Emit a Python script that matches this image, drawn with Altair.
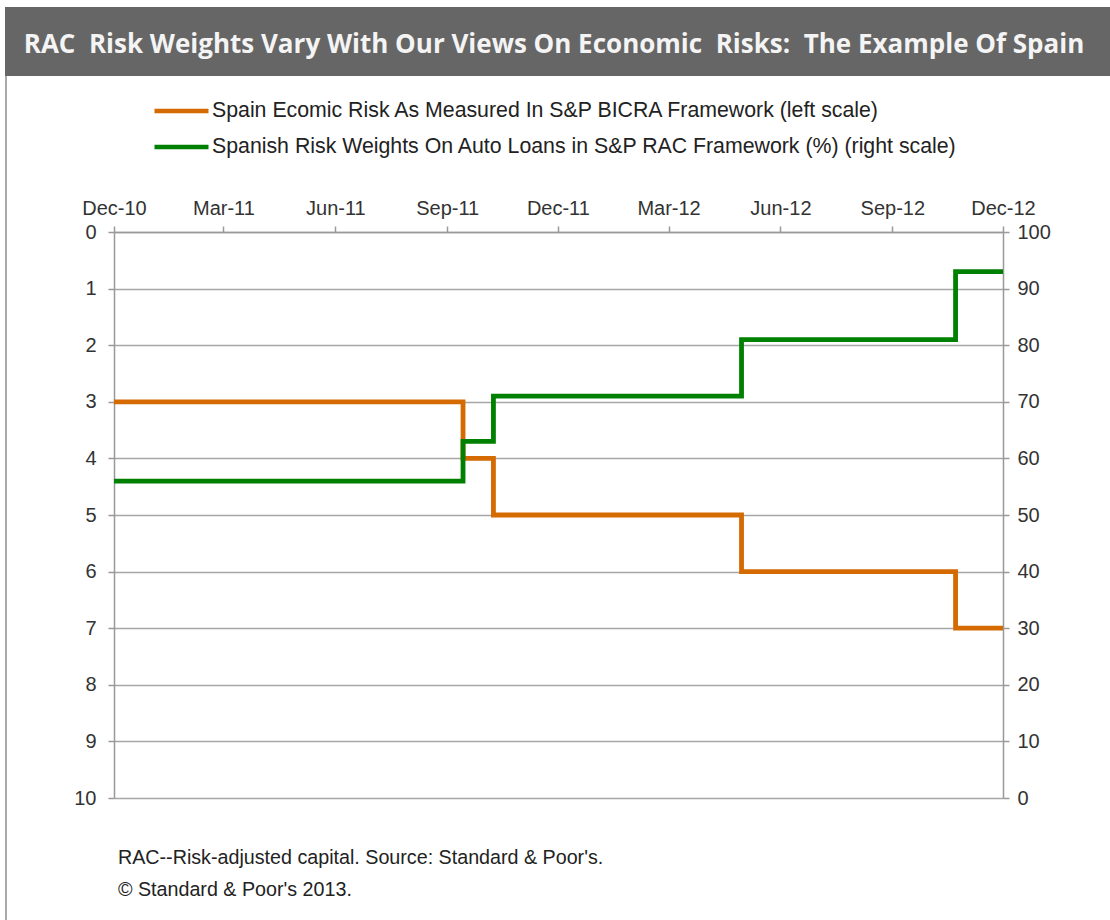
import altair as alt
import pandas as pd

# ---- data ----
STEP_DATES = ["2010-12-01", "2011-09-14", "2011-10-09", "2012-04-30", "2012-10-23", "2012-12-01"]
ECON_RISK = [3, 4, 5, 6, 7, 7]            # left scale (reversed)
RISK_WEIGHTS = [56, 63, 71, 81, 93, 93]   # right scale (%)
SERIES = [
    "Spain Ecomic Risk As Measured In S&P BICRA Framework (left scale)",
    "Spanish Risk Weights On Auto Loans in S&P RAC Framework (%) (right scale)",
]
COLORS = ["#D46A00", "#008000"]
TICK_MONTHS = ["2010-12-01", "2011-03-01", "2011-06-01", "2011-09-01", "2011-12-01",
               "2012-03-01", "2012-06-01", "2012-09-01", "2012-12-01"]
LEFT_TICKS = list(range(0, 11))
RIGHT_TICKS = list(range(0, 101, 10))
TITLE = "RAC\u00a0 Risk Weights Vary With Our Views On Economic\u00a0 Risks:\u00a0 The Example Of Spain"
FOOTNOTES = ["RAC--Risk-adjusted capital. Source: Standard & Poor's.",
             "\u00a9 Standard & Poor's 2013."]

def ms(d):
    return int(pd.Timestamp(d, tz="UTC").value // 10**6)

econ_df = pd.DataFrame({"date": STEP_DATES, "value": ECON_RISK, "series": SERIES[0]})
wt_df = pd.DataFrame({"date": STEP_DATES, "value": RISK_WEIGHTS, "series": SERIES[1]})

FONT = "Liberation Sans, Arial, sans-serif"
W, H = 889, 566

xenc = alt.X(
    "date:T",
    scale=alt.Scale(type="utc", domain=[ms(TICK_MONTHS[0]), ms(TICK_MONTHS[-1])]),
    axis=alt.Axis(orient="top", values=[ms(d) for d in TICK_MONTHS], format="%b-%y",
                  title=None, grid=False, labelFontSize=20, labelPadding=8,
                  tickSize=6, labelFlush=False, labelOverlap=False),
)
color = alt.Color(
    "series:N",
    scale=alt.Scale(domain=SERIES, range=COLORS),
    legend=alt.Legend(orient="none", legendX=38, legendY=-130, title=None,
                      symbolType="stroke", symbolSize=2916, symbolStrokeWidth=4.5,
                      labelFontSize=21.3, labelOffset=1, clipHeight=18, rowPadding=14,
                      labelLimit=900, labelColor="#222222"),
)

orange = alt.Chart(econ_df).mark_line(interpolate="step-after", strokeWidth=4.8).encode(
    x=xenc,
    y=alt.Y("value:Q", scale=alt.Scale(domain=[0, 10], reverse=True, nice=False),
            axis=alt.Axis(orient="left", values=LEFT_TICKS, grid=True, title=None,
                          labelFontSize=20, labelPadding=12, tickSize=6)),
    color=color,
)
green = alt.Chart(wt_df).mark_line(interpolate="step-after", strokeWidth=4.8).encode(
    x=xenc,
    y=alt.Y("value:Q", scale=alt.Scale(domain=[0, 100], nice=False),
            axis=alt.Axis(orient="right", values=RIGHT_TICKS, grid=False, title=None,
                          labelFontSize=20, labelPadding=8, tickSize=6)),
    color=color,
)

one = pd.DataFrame({"t": [TITLE]})
bar = alt.Chart(one).mark_rect(color="#666666").encode(
    x=alt.value(-109), x2=alt.value(996), y=alt.value(-225), y2=alt.value(-156))
title = alt.Chart(one).mark_text(font="Open Sans", fontSize=26, fontWeight="bold",
                                 color="#F4F4F4", align="center", baseline="alphabetic").encode(
    text="t:N", x=alt.value(440), y=alt.value(-179))
border = alt.Chart(one).mark_rule(color="#8C8C8C", strokeWidth=1.5).encode(
    x=alt.value(-108), y=alt.value(-156), y2=alt.value(690))
foot1 = alt.Chart(pd.DataFrame({"t": [FOOTNOTES[0]]})).mark_text(
    font=FONT, fontSize=19.7, color="#222222", align="left", baseline="alphabetic").encode(
    text="t:N", x=alt.value(4), y=alt.value(632))
foot2 = alt.Chart(pd.DataFrame({"t": [FOOTNOTES[1]]})).mark_text(
    font=FONT, fontSize=19.7, color="#222222", align="left", baseline="alphabetic").encode(
    text="t:N", x=alt.value(4), y=alt.value(664))

chart = alt.layer(bar, title, border, foot1, foot2, orange, green).resolve_scale(
    y="independent"
).properties(
    width=W, height=H,
    autosize=alt.AutoSizeParams(type="none"),
    padding={"left": 114, "top": 232, "right": 107, "bottom": 122},
    background="white",
).configure_view(stroke=None).configure_axis(
    labelFont=FONT, labelColor="#333333", domainColor="#999999", domainWidth=1.5,
    tickColor="#999999", tickWidth=1.5, gridColor="#A6A6A6", gridWidth=1.5,
).configure_legend(labelFont=FONT)

chart.save("out.html", embed_options={"renderer": "svg", "actions": False})
